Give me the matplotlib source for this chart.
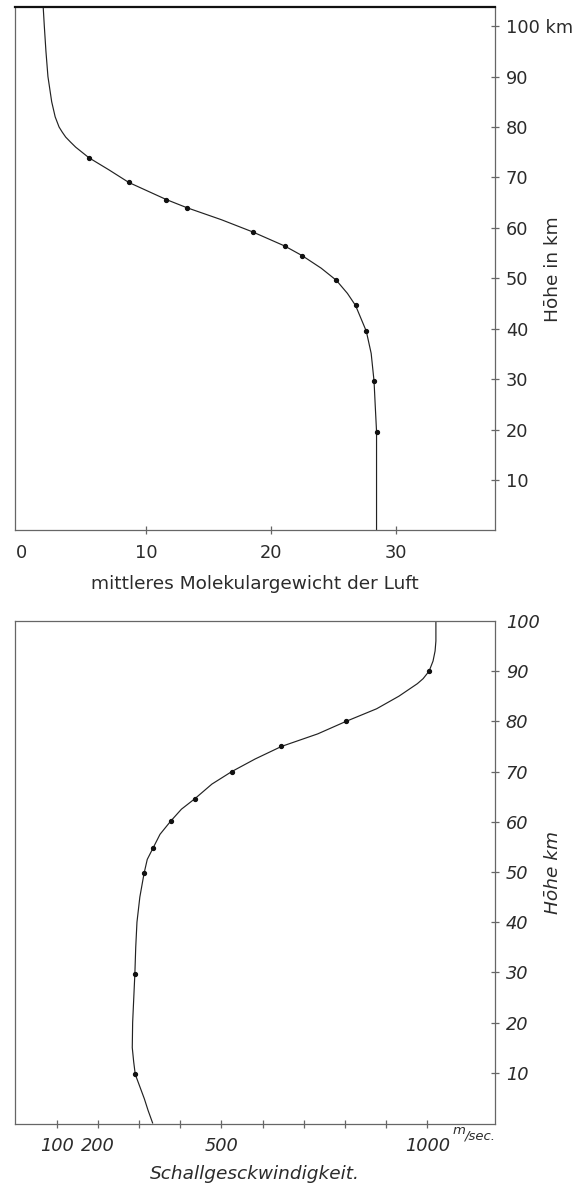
import matplotlib
matplotlib.use('Agg')
import matplotlib.pyplot as plt

plt.rcParams['font.family'] = ['DejaVu Sans']

_SPINE_COLOR_ = '#666666'
_TEXT_COLOR_ = '#2b2b2b'
_LINE_COLOR_ = '#222222'
_TICK_SIZE_ = 12.8
_LABEL_SIZE_ = 13.3

# Mittleres Molekulargewicht der Luft ueber der Hoehe (km)
mw_height = [103.8, 100, 95, 90, 85, 82, 80, 79, 78, 77, 76, 73.9, 71.5, 69.0,
             65.6, 64.0, 61.6, 59.2, 56.4, 54.5, 52.0, 49.6, 47.0, 44.6, 39.5,
             35.1, 29.6, 25.0, 19.6, 10.0, 0.0]
mw_value = [1.76, 1.85, 1.98, 2.14, 2.44, 2.72, 3.03, 3.28, 3.56, 3.95, 4.36,
            5.42, 7.02, 8.61, 11.62, 13.25, 16.03, 18.51, 21.08, 22.47, 24.0,
            25.21, 26.1, 26.75, 27.61, 28.0, 28.23, 28.32, 28.43, 28.43, 28.43]
mw_dot_height = [73.9, 69.0, 65.6, 64.0, 59.2, 56.4, 54.5, 49.6, 44.6, 39.5,
                 29.6, 19.6]
mw_dot_value = [5.42, 8.61, 11.62, 13.25, 18.51, 21.08, 22.47, 25.21, 26.75,
                27.61, 28.23, 28.43]
mw_xticks = [0, 10, 20, 30]
mw_yticks = [10, 20, 30, 40, 50, 60, 70, 80, 90, 100]
mw_ytick_labels = ['10', '20', '30', '40', '50', '60', '70', '80', '90', '100 km']

# Schallgeschwindigkeit (m/sec) ueber der Hoehe (km)
sos_height = [100, 96, 94, 92, 90, 88.5, 87.5, 85, 82.5, 80, 77.5, 75, 72.5,
              70, 67.5, 64.6, 62.5, 60.1, 57.5, 54.7, 52.5, 49.7, 45, 40, 35,
              29.7, 20, 15, 12.2, 9.7, 4.8, 2.5, 0]
sos_value = [1021, 1021, 1019, 1014, 1004.5, 990, 976, 931, 877, 803, 734, 646,
             582, 525.4, 477, 435.8, 403, 376.7, 351, 333.7, 320, 312.2, 302,
             295, 292, 289.9, 284.5, 283.6, 287, 290.8, 313, 322, 333]
sos_dot_height = [90, 80, 75, 70, 64.6, 60.1, 54.7, 49.7, 29.7, 9.7]
sos_dot_value = [1004.5, 803, 646, 525.4, 435.8, 376.7, 333.7, 312.2, 289.9,
                 290.8]
sos_xticks = [100, 200, 300, 400, 500, 600, 700, 800, 900, 1000]
sos_xtick_labels = ['100', '200', '', '', '500', '', '', '', '', '1000']
sos_yticks = [10, 20, 30, 40, 50, 60, 70, 80, 90, 100]


def style_axes(ax, italic=False):
    for side, spine in ax.spines.items():
        spine.set_color(_SPINE_COLOR_)
        spine.set_linewidth(0.9)
    ax.yaxis.tick_right()
    ax.yaxis.set_label_position('right')
    ax.tick_params(direction='inout', length=5.5, width=0.9,
                   color=_SPINE_COLOR_, labelcolor=_TEXT_COLOR_,
                   labelsize=_TICK_SIZE_)
    ax.tick_params(axis='y', pad=5.2)
    if italic:
        for lab in ax.get_xticklabels() + ax.get_yticklabels():
            lab.set_fontstyle('italic')


fig = plt.figure(figsize=(5.76, 11.87), dpi=100)

# oberes Diagramm
ax1 = fig.add_axes([0.0269, 0.5532, 0.8321, 0.4409])
ax1.plot(mw_value, mw_height, color=_LINE_COLOR_, lw=0.85)
ax1.plot(mw_dot_value, mw_dot_height, 'o', ms=2.8, color='#111111')
ax1.set_xlim(-0.456, 37.89)
ax1.set_ylim(0, 103.8)
ax1.set_xticks(mw_xticks)
ax1.set_yticks(mw_yticks)
ax1.set_yticklabels(mw_ytick_labels)
style_axes(ax1)
ax1.tick_params(axis='x', pad=7.3)
ax1.xaxis.get_major_ticks()[0].tick1line.set_visible(False)
ax1.spines['top'].set_color('#111111')
ax1.spines['top'].set_linewidth(1.6)
ax1.set_xlabel('mittleres Molekulargewicht der Luft', fontsize=_LABEL_SIZE_,
               color=_TEXT_COLOR_)
ax1.xaxis.set_label_coords(0.5, -0.085)
ax1.set_ylabel('Hōhe in km', fontsize=_LABEL_SIZE_, color=_TEXT_COLOR_)
ax1.yaxis.set_label_coords(1.103, 0.5)

# unteres Diagramm
ax2 = fig.add_axes([0.0269, 0.0531, 0.8321, 0.4238])
ax2.plot(sos_value, sos_height, color=_LINE_COLOR_, lw=0.85)
ax2.plot(sos_dot_value, sos_dot_height, 'o', ms=2.8, color='#111111')
ax2.set_xlim(0, 1164)
ax2.set_ylim(-0.2, 100)
ax2.set_xticks(sos_xticks)
ax2.set_xticklabels(sos_xtick_labels)
ax2.set_yticks(sos_yticks)
style_axes(ax2, italic=True)
ax2.tick_params(axis='x', pad=6.3)
ax2.yaxis.get_major_ticks()[-1].tick2line.set_visible(False)
ax2.set_xlabel('Schallgesckwindigkeit.', fontsize=_LABEL_SIZE_,
               color=_TEXT_COLOR_, fontstyle='italic')
ax2.xaxis.set_label_coords(0.5, -0.0815)
ax2.set_ylabel('Hōhe km', fontsize=_LABEL_SIZE_, color=_TEXT_COLOR_,
               fontstyle='italic')
ax2.yaxis.set_label_coords(1.103, 0.5)

# Einheit hinter der 1000
ax2.annotate('m', xy=(1000, 0), xycoords=('data', 'axes fraction'),
             xytext=(22.9, -4.5), textcoords='offset points', ha='center',
             va='center', fontsize=9.5, fontstyle='italic', color=_TEXT_COLOR_)
ax2.annotate('/sec.', xy=(1000, 0), xycoords=('data', 'axes fraction'),
             xytext=(26.9, -8.6), textcoords='offset points', ha='left',
             va='center', fontsize=9.5, fontstyle='italic', color=_TEXT_COLOR_)

fig.savefig('out.png', dpi=100)
